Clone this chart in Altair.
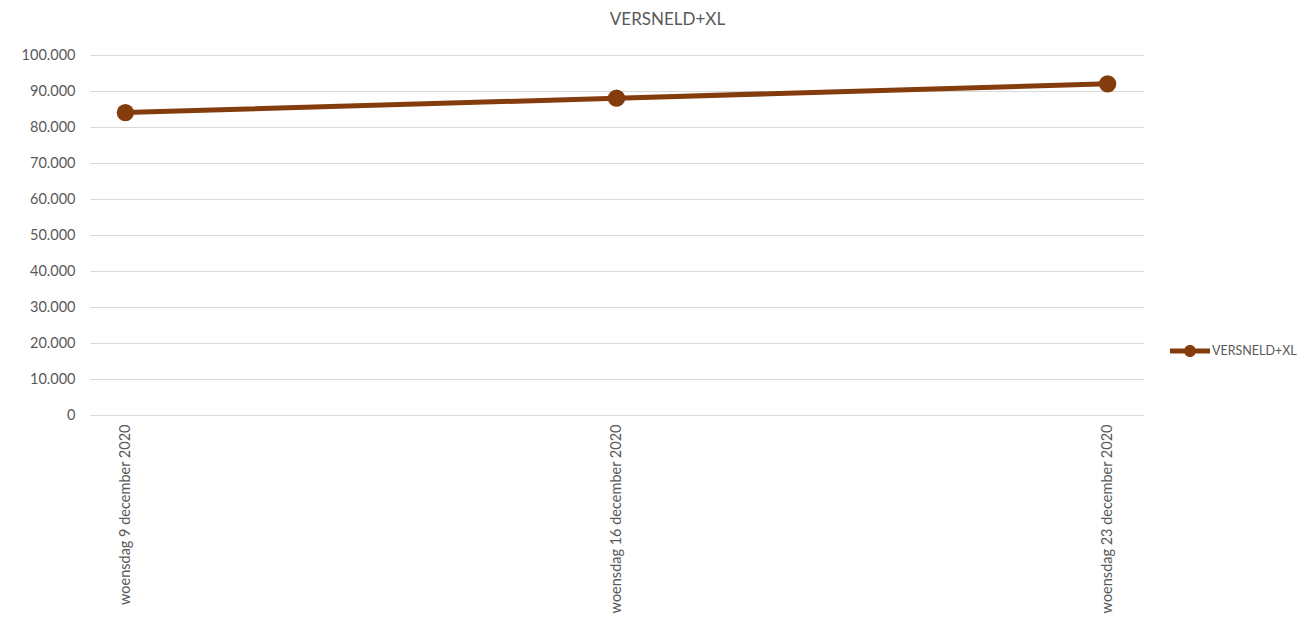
import altair as alt
import pandas as pd

dates = ["woensdag 9 december 2020", "woensdag 16 december 2020", "woensdag 23 december 2020"]
values = [84000, 88000, 92000]
series = ["VERSNELD+XL"] * 3

df = pd.DataFrame({"datum": dates, "waarde": values, "reeks": series})

color = "#843C0C"
txt = "#595959"
font = "Lato"

legend_path = ("M-1,-0.13 L1,-0.13 L1,0.13 L-1,0.13 Z "
               "M0.3,0 A0.3,0.3 0 1 1 -0.3,0 A0.3,0.3 0 1 1 0.3,0 Z")

x = alt.X("datum:N", sort=dates, title=None,
          scale=alt.Scale(type="point", padding=0.072),
          axis=alt.Axis(labelAngle=-90, labelAlign="right", labelBaseline="middle",
                        labelFontSize=14.5, labelColor=txt, labelFont=font, ticks=False,
                        domainColor="#D9D9D9", labelPadding=9, grid=False, labelLimit=0))
y = alt.Y("waarde:Q", title=None,
          scale=alt.Scale(domain=[0, 100000], nice=False),
          axis=alt.Axis(values=list(range(0, 100001, 10000)), labelFontSize=14.5, labelColor=txt,
                        labelFont=font, ticks=False, domain=False, gridColor="#D9D9D9",
                        labelPadding=15,
                        labelExpr="replace(format(datum.value, ','), ',', '.')"))
col = alt.Color("reeks:N", title=None,
                scale=alt.Scale(range=[color]),
                legend=alt.Legend(orient="none", legendX=1080, legendY=276,
                                  symbolType=legend_path, symbolSize=1600,
                                  symbolFillColor=color, symbolStrokeWidth=0,
                                  labelFontSize=12.5, labelColor=txt, labelFont=font,
                                  labelOffset=2, labelLimit=0))

line = alt.Chart(df).mark_line(strokeWidth=5).encode(x=x, y=y, color=col)
pts = alt.Chart(df).mark_point(filled=True, size=300, opacity=1).encode(x=x, y=y, color=col)

chart = (line + pts).properties(
    width=1053, height=360,
    title=alt.TitleParams("VERSNELD+XL", fontSize=17, font=font, color=txt,
                          fontWeight="normal", anchor="middle", dx=51, offset=18),
    autosize=alt.AutoSizeParams(type="none"),
    padding={"left": 82, "top": 47, "right": 159, "bottom": 210},
).configure_view(stroke=None)

chart.save("out.html", embed_options={"renderer": "svg", "actions": False})
